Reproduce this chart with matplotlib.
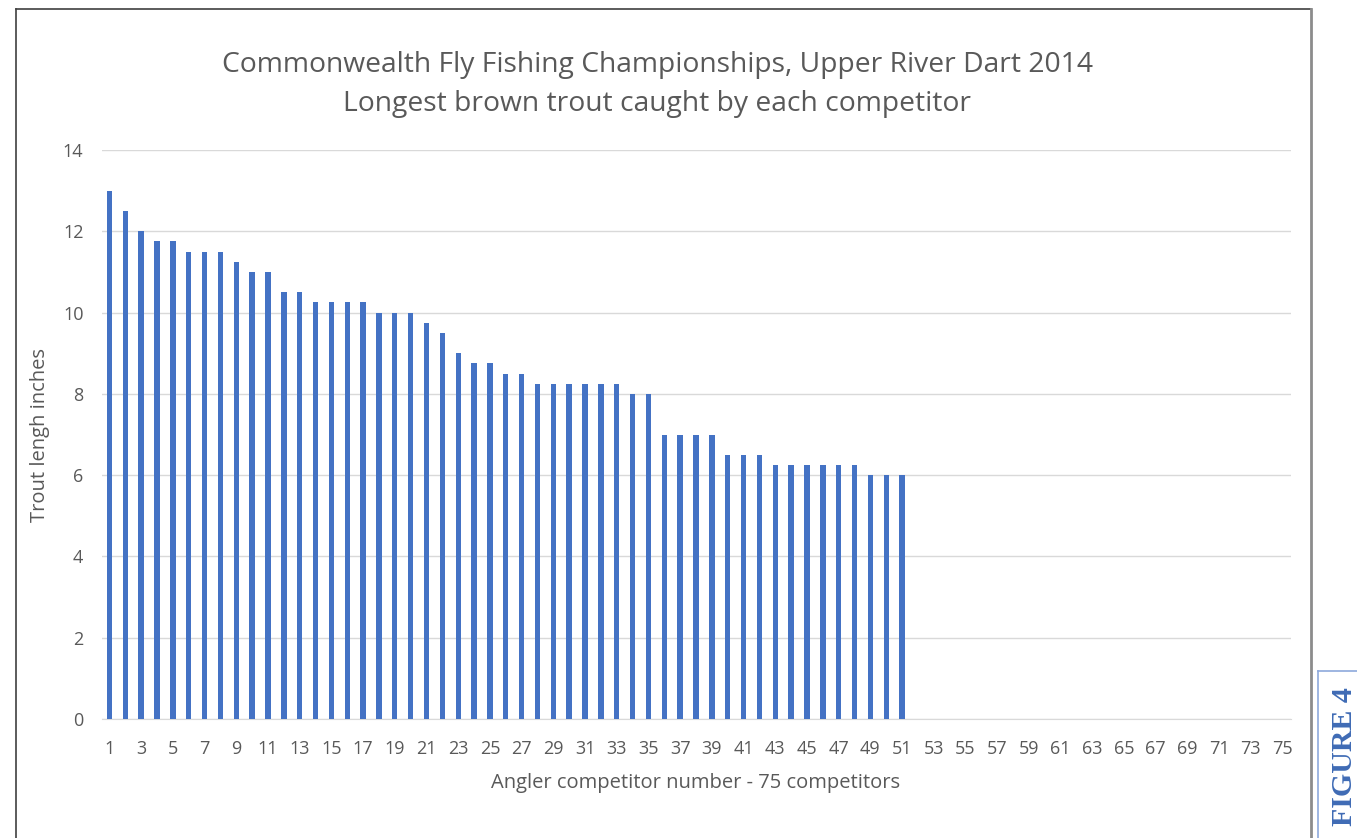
import numpy as np
import matplotlib.pyplot as plt
from matplotlib.lines import Line2D

# longest trout per competitor, inches (competitors 52-75 caught nothing)
competitors = np.arange(1, 76)
lengths = ([13, 12.5, 12, 11.75, 11.75, 11.5, 11.5, 11.5, 11.25, 11, 11,
            10.5, 10.5, 10.25, 10.25, 10.25, 10.25, 10, 10, 10, 9.75, 9.5,
            9, 8.75, 8.75, 8.5, 8.5]
           + [8.25]*6 + [8, 8] + [7]*4 + [6.5]*3 + [6.25]*6 + [6]*3
           + [0]*24)
yticks = [0, 2, 4, 6, 8, 10, 12, 14]

W, H = 1357, 838
fig = plt.figure(figsize=(W/100, H/100), dpi=100)
plt.rcParams['font.family'] = ['Open Sans', 'DejaVu Sans']
grey = '#595959'

ax = fig.add_axes([101.5/W, (H-719)/H, 1189/W, 569/H])
ax.bar(competitors, lengths, width=0.34, color='#4472C4', zorder=3)
ax.set_xlim(0.5, 75.5)
ax.set_ylim(0, 14)
ax.set_yticks(yticks)
ax.set_xticks(competitors[::2])
ax.grid(axis='y', color='#d9d9d9', linewidth=1, zorder=0)
for s in ['top', 'right', 'left']:
    ax.spines[s].set_visible(False)
ax.spines['bottom'].set_color('#d9d9d9')
ax.tick_params(axis='both', length=0, labelsize=13, labelcolor=grey)
ax.tick_params(axis='x', pad=15)
ax.tick_params(axis='y', pad=13)

ax.set_xlabel('Angler competitor number - 75 competitors', fontsize=14.5,
              color=grey, labelpad=11)
ax.set_ylabel('Trout lengh inches', fontsize=14.5, color=grey, labelpad=9)

fig.text(657/W, 1-65/H, 'Commonwealth Fly Fishing Championships, Upper River Dart 2014',
         ha='center', va='center', fontsize=20.3, color=grey)
fig.text(657/W, 1-104/H, 'Longest brown trout caught by each competitor',
         ha='center', va='center', fontsize=20.3, color=grey)

# chart frame
fig.add_artist(Line2D([16/W, 16/W], [1-9/H, 0], transform=fig.transFigure,
                      color='#404040', linewidth=1.2))
fig.add_artist(Line2D([16/W, 1311/W], [1-9/H, 1-9/H], transform=fig.transFigure,
                      color='#404040', linewidth=1.2))
fig.add_artist(Line2D([1311/W, 1311/W], [1-9/H, 0], transform=fig.transFigure,
                      color='#8c8c8c', linewidth=2))

# figure label box
fig.add_artist(Line2D([1318/W, 1318/W], [1-671/H, 0], transform=fig.transFigure,
                      color='#8EA9DB', linewidth=1.2))
fig.add_artist(Line2D([1318/W, 1], [1-671/H, 1-671/H], transform=fig.transFigure,
                      color='#8EA9DB', linewidth=1.2))
fig.text(1345/W, 1-757/H, 'FIGURE 4', rotation=90, ha='center', va='center',
         fontsize=21.5, fontweight='bold', color='#3F6BB5',
         family=['Liberation Serif', 'DejaVu Serif'])

fig.savefig('out.png', dpi=100)
